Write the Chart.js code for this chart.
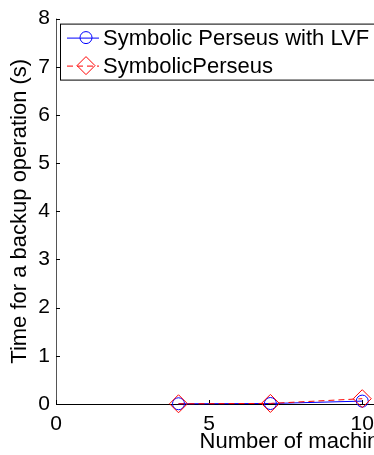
<!DOCTYPE html>
<html>
<head>
<meta charset="utf-8">
<script src="https://cdn.jsdelivr.net/npm/chart.js@4.4.1/dist/chart.umd.min.js"></script>
<style>
  html, body { margin: 0; padding: 0; background: #fff; overflow: hidden; }
  #wrap { width: 374px; height: 455px; overflow: hidden; }
  canvas { display: block; }
</style>
</head>
<body>
<div id="wrap"><canvas id="c" width="580" height="455"></canvas></div>
<script>
// Machines in the problem and time per backup (seconds)
const machines = [4, 7, 10];
const lvfTimes = [0.005, 0.01, 0.06];
const spTimes = [0.005, 0.012, 0.11];
const seriesNames = ['Symbolic Perseus with LVF', 'SymbolicPerseus'];
const xTickValues = [0, 5, 10, 15];
const yTickValues = [0, 1, 2, 3, 4, 5, 6, 7, 8];
const xTitle = 'Number of machines';
const yTitle = 'Time for a backup operation (s)';

const FONT = '"Liberation Sans", Arial, Helvetica, sans-serif';
const TICK_PX = 21;
const LABEL_PX = 22;

// Inward tick marks and plain axis lines, drawn like a classic numeric plot
const axisPlugin = {
  id: 'axisLines',
  beforeDatasetsDraw(chart) {
    const { ctx, chartArea: a, scales: { x, y } } = chart;
    ctx.save();
    ctx.lineWidth = 1;
    ctx.strokeStyle = '#555';
    ctx.beginPath();
    ctx.moveTo(a.left + 0.5, a.top);
    ctx.lineTo(a.left + 0.5, a.bottom);
    ctx.stroke();
    ctx.strokeStyle = '#000';
    ctx.beginPath();
    ctx.moveTo(a.left, a.bottom + 0.5);
    ctx.lineTo(a.right, a.bottom + 0.5);
    ctx.stroke();
    ctx.beginPath();
    yTickValues.forEach(v => {
      const py = Math.round(y.getPixelForValue(v)) + 0.5;
      ctx.moveTo(a.left, py);
      ctx.lineTo(a.left + 4, py);
    });
    xTickValues.forEach(v => {
      const px = Math.round(x.getPixelForValue(v)) + 0.5;
      ctx.moveTo(px, a.bottom);
      ctx.lineTo(px, a.bottom - 4);
    });
    ctx.stroke();
    ctx.restore();
  }
};

// Boxed legend in the upper-left corner of the plot area
const legendBoxPlugin = {
  id: 'legendBox',
  afterDraw(chart) {
    const { ctx, chartArea: a } = chart;
    const left = a.left + 4, top = a.top + 5;
    const rowH = 28;
    ctx.save();
    ctx.font = LABEL_PX + 'px ' + FONT;
    let maxW = 0;
    chart.data.datasets.forEach(ds => { maxW = Math.max(maxW, ctx.measureText(ds.label).width); });
    const w = 43 + maxW + 6, h = rowH * 2;
    ctx.fillStyle = '#fff';
    ctx.fillRect(left, top, w, h);
    ctx.strokeStyle = '#000';
    ctx.lineWidth = 1;
    ctx.strokeRect(left + 0.5, top + 0.5, w, h);
    chart.data.datasets.forEach((ds, i) => {
      const cy = top + 14 + i * rowH;
      ctx.strokeStyle = ds.borderColor;
      ctx.lineWidth = 1;
      ctx.setLineDash(ds.borderDash || []);
      ctx.beginPath();
      ctx.moveTo(left + 7, cy + 0.5);
      ctx.lineTo(left + 39, cy + 0.5);
      ctx.stroke();
      ctx.setLineDash([]);
      const mx = left + 26;
      ctx.beginPath();
      if (ds.pointStyle === 'rectRot') {
        const r = ds.pointRadius;
        ctx.moveTo(mx, cy - r); ctx.lineTo(mx + r, cy); ctx.lineTo(mx, cy + r); ctx.lineTo(mx - r, cy); ctx.closePath();
      } else {
        ctx.arc(mx, cy, ds.pointRadius, 0, Math.PI * 2);
      }
      ctx.stroke();
      ctx.fillStyle = '#000';
      ctx.textBaseline = 'middle';
      ctx.textAlign = 'left';
      ctx.fillText(ds.label, left + 43, cy + 1);
    });
    ctx.restore();
  }
};

new Chart(document.getElementById('c'), {
  type: 'line',
  data: {
    datasets: [
      {
        label: seriesNames[0],
        data: machines.map((m, i) => ({ x: m, y: lvfTimes[i] })),
        borderColor: '#0000ff',
        backgroundColor: 'rgba(0,0,0,0)',
        borderWidth: 1,
        pointStyle: 'circle',
        pointRadius: 6,
        pointBorderWidth: 1,
        pointBorderColor: '#0000ff',
        pointBackgroundColor: 'rgba(0,0,0,0)',
        clip: false,
        order: 1
      },
      {
        label: seriesNames[1],
        data: machines.map((m, i) => ({ x: m, y: spTimes[i] })),
        borderColor: '#ff0000',
        backgroundColor: 'rgba(0,0,0,0)',
        borderWidth: 1,
        borderDash: [6, 4],
        pointStyle: 'rectRot',
        pointRadius: 9,
        pointBorderWidth: 1,
        pointBorderColor: '#ff0000',
        pointBackgroundColor: 'rgba(0,0,0,0)',
        clip: false,
        order: 0
      }
    ]
  },
  options: {
    responsive: false,
    animation: false,
    layout: { padding: { top: 14, right: 34, left: 0, bottom: 0 } },
    plugins: { legend: { display: false }, tooltip: { enabled: false } },
    scales: {
      x: {
        type: 'linear',
        min: 0,
        max: 16,
        afterBuildTicks: s => { s.ticks = xTickValues.map(v => ({ value: v })); },
        grid: { display: false, drawTicks: false },
        border: { display: false },
        ticks: { color: '#000', font: { family: FONT, size: TICK_PX }, padding: 8, maxRotation: 0 },
        title: { display: true, text: xTitle, color: '#000', font: { family: FONT, size: LABEL_PX }, padding: { top: 0, bottom: 0 } },
        afterFit: s => { s.height = 51; }
      },
      y: {
        type: 'linear',
        min: 0,
        max: 8,
        afterBuildTicks: s => { s.ticks = yTickValues.map(v => ({ value: v })); },
        grid: { display: false, drawTicks: false },
        border: { display: false },
        ticks: { color: '#000', font: { family: FONT, size: TICK_PX }, padding: 6 },
        title: { display: true, text: yTitle, color: '#000', font: { family: FONT, size: LABEL_PX }, padding: { top: 7, bottom: 0 } },
        afterFit: s => { s.width = 56; }
      }
    }
  },
  plugins: [axisPlugin, legendBoxPlugin]
});
</script>
</body>
</html>
